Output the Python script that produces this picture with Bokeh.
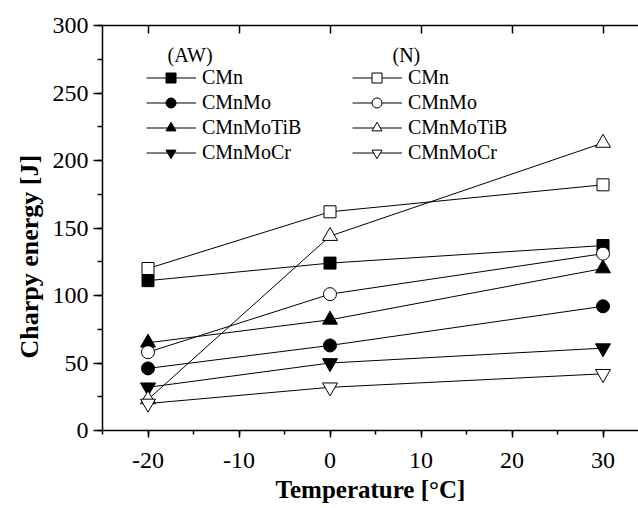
from bokeh.plotting import figure
from bokeh.models import (Range1d, LinearAxis, Legend, LegendItem, Label, Title,
                          CustomJSTickFormatter, SingleIntervalTicker)
from bokeh.embed import file_html
from bokeh.resources import INLINE

temps = [-20, 0, 30]
alloys = ["CMn", "CMnMo", "CMnMoTiB", "CMnMoCr"]

# As-welded (AW) - filled markers
aw_cmn = [111, 124, 137]
aw_cmnmo = [46, 63, 92]
aw_cmnmotib = [65, 82, 120]
aw_cmnmocr = [32, 50, 61]

# Normalised (N) - open markers
n_cmn = [120, 162, 182]
n_cmnmo = [58, 101, 131]
n_cmnmotib = [23, 144, 213]
n_cmnmocr = [20, 32, 42]

aw_series = [aw_cmn, aw_cmnmo, aw_cmnmotib, aw_cmnmocr]
n_series = [n_cmn, n_cmnmo, n_cmnmotib, n_cmnmocr]
markers = ["square", "circle", "triangle", "inverted_triangle"]
sizes = [12, 13, 15, 15]

FONT = "Liberation Serif"

p = figure(width=638, height=508,
           x_range=Range1d(-25, 33.9), y_range=Range1d(0, 300),
           output_backend="svg", toolbar_location=None,
           min_border_left=102, min_border_right=0, min_border_top=25,
           min_border_bottom=78)
p.outline_line_color = None
p.xgrid.visible = False
p.ygrid.visible = False
p.background_fill_color = "white"

aw_line_items, aw_mark_items = [], []
n_line_items, n_mark_items = [], []
for name, vals, mk, sz in zip(alloys, aw_series, markers, sizes):
    lr = p.line(temps, vals, line_color="black", line_width=1)
    sr = p.scatter(temps, vals, marker=mk, size=sz, fill_color="black",
                   line_color="black", line_width=1)
    aw_line_items.append(LegendItem(label=name, renderers=[lr]))
    aw_mark_items.append(LegendItem(label="", renderers=[sr]))
for name, vals, mk, sz in zip(alloys, n_series, markers, sizes):
    lr = p.line(temps, vals, line_color="black", line_width=1)
    sr = p.scatter(temps, vals, marker=mk, size=sz, fill_color="white",
                   line_color="black", line_width=1)
    n_line_items.append(LegendItem(label=name, renderers=[lr]))
    n_mark_items.append(LegendItem(label="", renderers=[sr]))

tick_fmt = "return tick.toString()"

# axes
xa = p.xaxis[0]
xa.ticker = SingleIntervalTicker(interval=10, num_minor_ticks=2)
ya = p.yaxis[0]
ya.ticker = SingleIntervalTicker(interval=50, num_minor_ticks=2)
for ax in (xa, ya):
    ax.formatter = CustomJSTickFormatter(code=tick_fmt)
    ax.axis_line_color = "black"
    ax.axis_line_width = 1.5
    ax.major_tick_line_color = "black"
    ax.major_tick_line_width = 1.5
    ax.minor_tick_line_color = "black"
    ax.minor_tick_line_width = 1.5
    ax.major_tick_in = 0
    ax.minor_tick_in = 0
    ax.major_label_text_font = FONT
    ax.major_label_text_font_size = "24px"
    ax.major_label_text_line_height = 1.0
    ax.major_label_text_color = "black"
xa.major_tick_out = 7
xa.minor_tick_out = 4
xa.major_label_standoff = 15
ya.major_tick_out = 9
ya.minor_tick_out = 5
ya.major_label_standoff = 5

xa.axis_label = "Temperature [°C]"
xa.axis_label_text_font = FONT
xa.axis_label_text_font_size = "25px"
xa.axis_label_text_font_style = "bold"
xa.axis_label_text_color = "black"
xa.axis_label_text_line_height = 1.0
xa.axis_label_standoff = 5

top = LinearAxis(ticker=SingleIntervalTicker(interval=10),
                 formatter=CustomJSTickFormatter(code="return ''"),
                 major_tick_in=8, major_tick_out=0,
                 minor_tick_in=0, minor_tick_out=0,
                 major_label_standoff=0,
                 axis_line_color="black", axis_line_width=1.5,
                 major_tick_line_color="black", major_tick_line_width=1.5)
p.add_layout(top, "above")

# y title as a side title so it can be shifted along the axis
ytitle = Title(text="Charpy energy [J]", align="left", offset=72,
               text_font=FONT, text_font_size="26px", text_font_style="bold",
               text_color="black", text_line_height=1.0, standoff=11)
p.add_layout(ytitle, "left")

# legends: lines + labels, and markers centred on the lines
common = dict(border_line_color=None, background_fill_alpha=0, padding=0,
              margin=0, spacing=0, glyph_height=25, label_text_font=FONT,
              label_text_font_size="20px", label_height=20,
              label_text_baseline="middle", label_text_color="black")
p.add_layout(Legend(items=aw_line_items, location=(44, 265), glyph_width=50,
                    label_standoff=6, **common))
p.add_layout(Legend(items=n_line_items, location=(250, 265), glyph_width=50,
                    label_standoff=6, **common))
p.add_layout(Legend(items=aw_mark_items, location=(56, 265), glyph_width=25,
                    label_standoff=0, **common))
p.add_layout(Legend(items=n_mark_items, location=(262, 265), glyph_width=25,
                    label_standoff=0, **common))

hdr = dict(x_units="screen", y_units="screen", text_baseline="middle",
           text_font=FONT, text_font_size="20px", text_color="black")
p.add_layout(Label(x=65, y=376, text="(AW)", **hdr))
p.add_layout(Label(x=290, y=376, text="(N)", **hdr))

open("out.html", "w").write(file_html(p, INLINE))
